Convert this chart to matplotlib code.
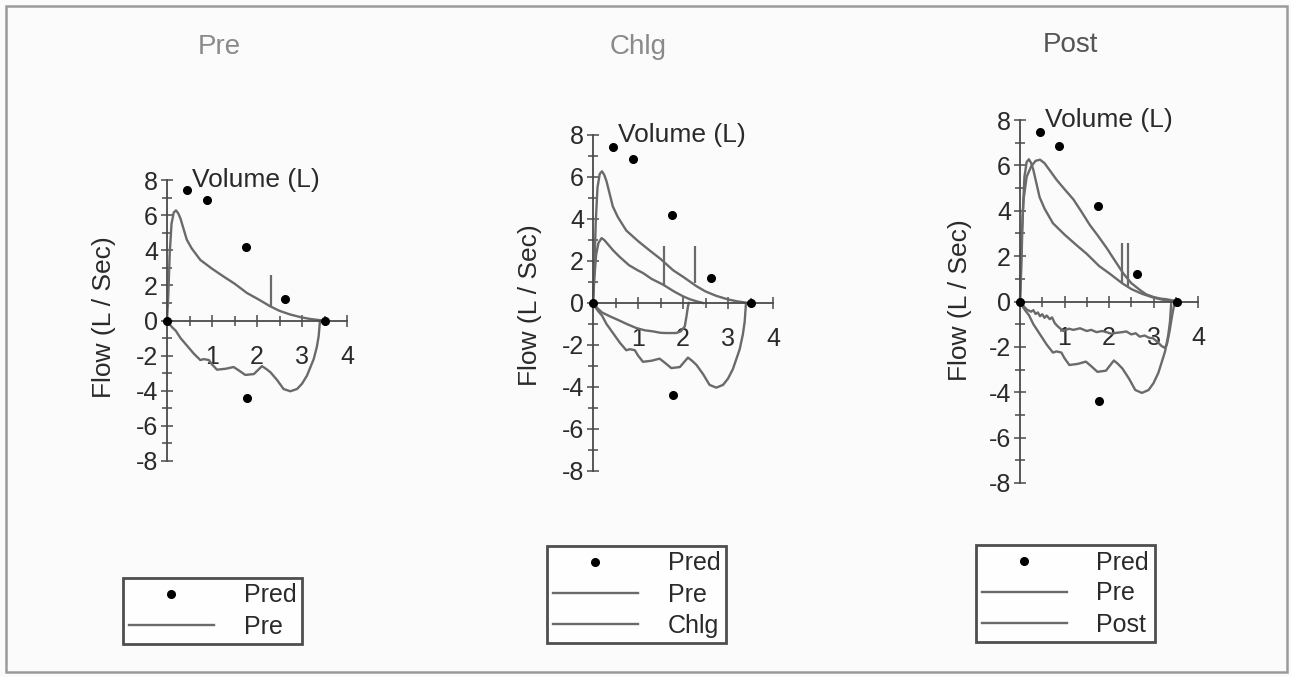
import matplotlib.pyplot as plt
from matplotlib.patches import Rectangle
from matplotlib.lines import Line2D

plt.rcParams['font.family'] = ['Liberation Sans', 'DejaVu Sans']
plt.rcParams['axes.unicode_minus'] = False

# predicted points (same in every panel)
pred_vol = [0.0, 0.45, 0.88, 1.76, 2.62, 3.52, 1.77]
pred_flow = [0.0, 7.45, 6.85, 4.2, 1.2, 0.0, -4.4]

# Pre loop
pre_exp_vol = [0, 0.03, 0.06, 0.1, 0.15, 0.2, 0.25, 0.3, 0.37, 0.44, 0.55, 0.74, 1.0,
               1.26, 1.5, 1.78, 2.0, 2.3, 2.5, 2.74, 3.0, 3.2, 3.33, 3.45]
pre_exp_flow = [0, 1.5, 3.8, 5.5, 6.15, 6.27, 6.1, 5.8, 5.2, 4.6, 4.1, 3.45, 2.95,
                2.5, 2.1, 1.56, 1.25, 0.8, 0.55, 0.34, 0.17, 0.08, 0.04, 0]
pre_insp_vol = [0, 0.05, 0.12, 0.2, 0.3, 0.4, 0.5, 0.6, 0.74, 0.82, 0.93, 1.0, 1.11, 1.3,
                1.48, 1.6, 1.74, 1.93, 2.05, 2.11, 2.2, 2.3, 2.45, 2.59, 2.74, 2.89, 3.0,
                3.11, 3.26, 3.33, 3.37, 3.4]
pre_insp_flow = [0, -0.2, -0.4, -0.6, -1.0, -1.3, -1.6, -1.9, -2.25, -2.2, -2.25, -2.5,
                 -2.8, -2.75, -2.65, -2.85, -3.1, -3.05, -2.75, -2.6, -2.75, -2.95, -3.4,
                 -3.9, -4.03, -3.9, -3.6, -3.14, -2.2, -1.5, -0.9, 0]
pre_mark = (2.3, 0.8, 2.6)

# Chlg loop
chlg_exp_vol = [0, 0.03, 0.07, 0.12, 0.19, 0.25, 0.35, 0.45, 0.59, 0.8, 1.0, 1.11, 1.3,
                1.56, 1.8, 2.0, 2.15, 2.3, 2.45]
chlg_exp_flow = [0, 1.2, 2.3, 2.85, 3.09, 3.0, 2.75, 2.5, 2.2, 1.8, 1.55, 1.43, 1.15,
                 0.87, 0.55, 0.32, 0.18, 0.08, 0.0]
chlg_insp_vol = [0, 0.1, 0.2, 0.37, 0.55, 0.75, 0.96, 1.15, 1.33, 1.5, 1.63, 1.85, 1.95,
                 2.04, 2.08, 2.11, 2.13]
chlg_insp_flow = [0, -0.25, -0.45, -0.63, -0.8, -1.0, -1.19, -1.3, -1.35, -1.42, -1.43,
                  -1.43, -1.35, -1.11, -0.6, -0.16, 0]
chlg_mark = (1.57, 0.85, 2.7)

# Post loop
post_exp_vol = [0, 0.03, 0.08, 0.15, 0.25, 0.35, 0.45, 0.55, 0.68, 0.82, 1.0, 1.2, 1.4,
                1.57, 1.75, 1.94, 2.1, 2.32, 2.5, 2.7, 2.84, 3.0, 3.15, 3.29, 3.45, 3.55]
post_exp_flow = [0, 2.5, 4.5, 5.5, 5.95, 6.2, 6.25, 6.1, 5.75, 5.37, 4.95, 4.5, 3.9,
                 3.37, 2.9, 2.38, 1.9, 1.24, 0.81, 0.5, 0.31, 0.2, 0.13, 0.1, 0.04, 0]
post_insp_vol = [0, 0.08, 0.15, 0.25, 0.3, 0.35, 0.4, 0.45, 0.5, 0.55, 0.6, 0.67, 0.72,
                 0.78, 0.85, 0.97, 1.1, 1.2, 1.35, 1.5, 1.6, 1.72, 1.85, 1.94, 2.05, 2.17,
                 2.3, 2.39, 2.5, 2.6, 2.69, 2.8, 2.9, 2.99, 3.1, 3.18, 3.25, 3.3, 3.36,
                 3.42, 3.48]
post_insp_flow = [0, -0.2, -0.35, -0.45, -0.38, -0.55, -0.48, -0.65, -0.56, -0.72, -0.62,
                  -0.78, -0.7, -0.95, -1.1, -1.3, -1.2, -1.25, -1.18, -1.3, -1.25, -1.35,
                  -1.3, -1.35, -1.42, -1.38, -1.35, -1.32, -1.45, -1.4, -1.55, -1.5, -1.6,
                  -1.62, -1.8, -1.96, -2.04, -1.9, -1.32, -0.6, 0]
post_mark = (2.43, 0.7, 2.6)

titles = ["Pre", "Chlg", "Post"]
W, H = 1291, 677
line_col = "#6a6a6a"
axis_col = "#4a4a4a"
text_col = "#2a2a2a"
FS = 18

fig = plt.figure(figsize=(W / 100, H / 100), dpi=100, facecolor="#fbfbfb")

# scanned page frame
fig.patches.append(Rectangle((6 / W, 5 / H), 1281 / W, 666 / H, transform=fig.transFigure,
                             fill=False, edgecolor="#9a9a9a", linewidth=1.8))


def px_axes(x0, x4, ytop, ybot):
    return fig.add_axes([x0 / W, 1 - ybot / H, (x4 - x0) / W, (ybot - ytop) / H])


def setup(ax):
    ax.set_xlim(0, 4)
    ax.set_ylim(-8, 8)
    ax.patch.set_alpha(0)
    for s in ["top", "right"]:
        ax.spines[s].set_visible(False)
    for s in ["left", "bottom"]:
        ax.spines[s].set_position("zero")
        ax.spines[s].set_color(axis_col)
        ax.spines[s].set_linewidth(1.3)
    ax.set_xticks([1, 2, 3, 4])
    ax.set_xticks([0.5, 1.5, 2.5, 3.5], minor=True)
    ax.set_yticks(range(-8, 9, 2))
    ax.set_yticks(range(-7, 8, 2), minor=True)
    ax.tick_params(which="both", direction="inout", color=axis_col, width=1.1)
    ax.tick_params(which="major", length=9)
    ax.tick_params(which="minor", length=7)
    ax.tick_params(axis="x", which="major", labelsize=FS, pad=13, labelcolor=text_col)
    ax.tick_params(axis="y", which="major", labelsize=FS, pad=2, labelcolor=text_col)
    ax.text(0.56, 8, "Volume (L)", fontsize=FS + 1, color=text_col, ha="left", va="center")


def draw_pred(ax):
    ax.plot(pred_vol, pred_flow, "o", color="black", markersize=5.5, clip_on=False, zorder=5)


def draw_loop(ax, ev, ef, iv, inf, mark):
    ax.plot(ev, ef, color=line_col, lw=1.7, clip_on=False)
    ax.plot(iv, inf, color=line_col, lw=1.7, clip_on=False)
    ax.vlines(mark[0], mark[1], mark[2], color=line_col, lw=1.6)


def legend(labels, x, y):
    handles = [Line2D([], [], ls="", marker="o", color="black", markersize=5.5)]
    handles += [Line2D([], [], color=line_col, lw=1.7) for _ in labels[1:]]
    leg = fig.legend(handles, labels, loc="upper left", bbox_to_anchor=(x / W, 1 - y / H),
                     fontsize=FS, frameon=True, fancybox=False, edgecolor="#222222",
                     handlelength=3.4, handletextpad=1.2, labelspacing=0.28,
                     borderpad=0.22, borderaxespad=0)
    leg.get_frame().set_linewidth(2.0)
    leg.get_frame().set_facecolor("white")
    for t in leg.get_texts():
        t.set_color(text_col)


# panel 1: Pre
ax1 = px_axes(167, 347, 180, 461)
setup(ax1)
draw_loop(ax1, pre_exp_vol, pre_exp_flow, pre_insp_vol, pre_insp_flow, pre_mark)
draw_pred(ax1)

# panel 2: Chlg
ax2 = px_axes(593, 773, 135, 471)
setup(ax2)
draw_loop(ax2, pre_exp_vol, pre_exp_flow, pre_insp_vol, pre_insp_flow, (2.26, 0.95, 2.7))
draw_loop(ax2, chlg_exp_vol, chlg_exp_flow, chlg_insp_vol, chlg_insp_flow, chlg_mark)
draw_pred(ax2)

# panel 3: Post
ax3 = px_axes(1020, 1198, 120, 483)
setup(ax3)
draw_loop(ax3, pre_exp_vol, pre_exp_flow, pre_insp_vol, pre_insp_flow, pre_mark)
draw_loop(ax3, post_exp_vol, post_exp_flow, post_insp_vol, post_insp_flow, post_mark)
draw_pred(ax3)

# y labels and titles
for x, y in [(104, 317), (530, 305), (960, 300)]:
    fig.text(x / W, 1 - y / H, "Flow (L / Sec)", rotation=90, fontsize=FS + 1,
             color=text_col, ha="center", va="center")
for (x, y), t, c in zip([(219, 47), (638, 47), (1070, 45)], titles,
                        ["#8a8a8a", "#8a8a8a", "#555555"]):
    fig.text(x / W, 1 - y / H, t, fontsize=FS + 2, color=c, ha="center", va="center")

legend(["Pred", "Pre"], 123, 578)
legend(["Pred", "Pre", "Chlg"], 547, 546)
legend(["Pred", "Pre", "Post"], 976, 545)

plt.savefig("out.png", dpi=100, facecolor=fig.get_facecolor())
plt.close()
